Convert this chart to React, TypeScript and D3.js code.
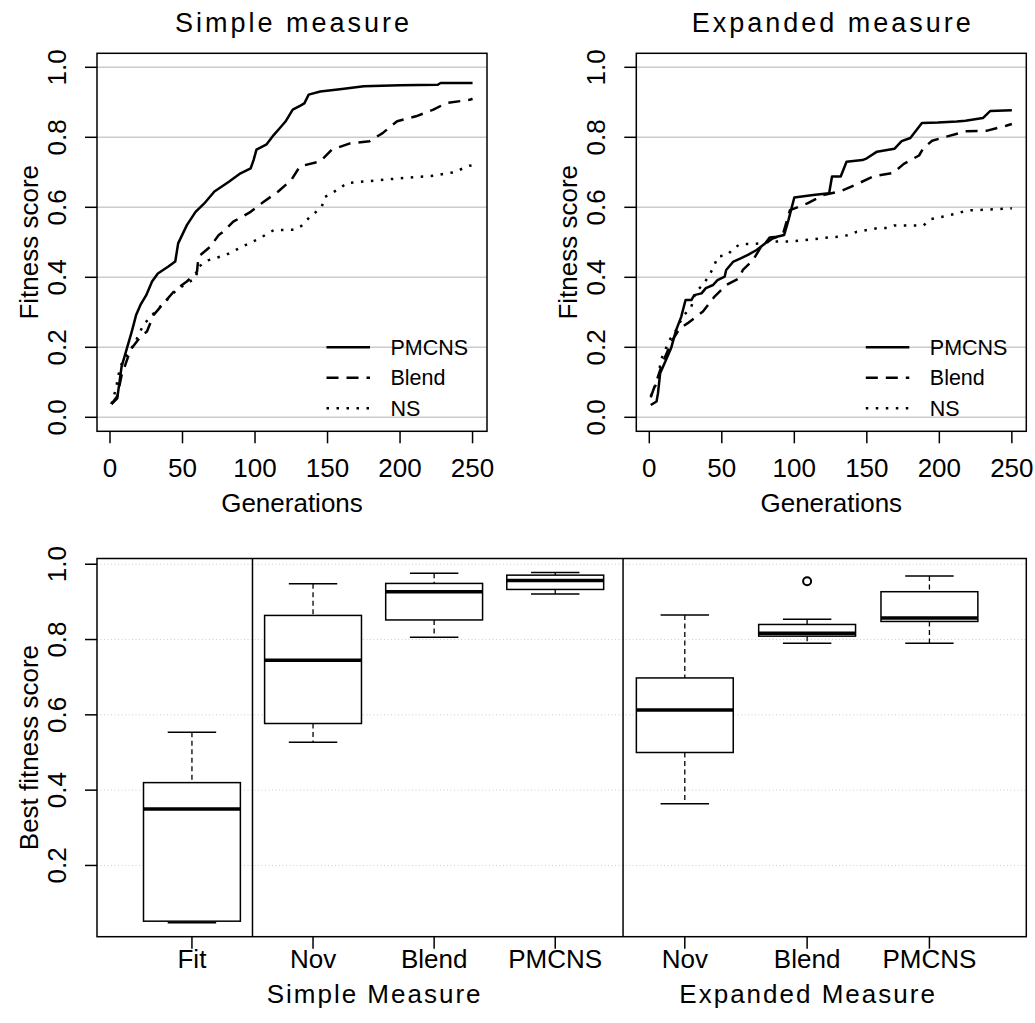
import * as d3 from "d3";

const FONT = "'Liberation Sans', Arial, Helvetica, sans-serif";

// shared axis ticks
const generationTicks = [0, 50, 100, 150, 200, 250];
const fitnessTicks = [0, 0.2, 0.4, 0.6, 0.8, 1.0];
const bestTicks = [0.2, 0.4, 0.6, 0.8, 1.0];
const seriesNames = ["PMCNS", "Blend", "NS"];

// Simple measure: best fitness per generation
const simplePmcnsGen = [1, 5, 8, 13, 15, 18, 21, 25, 29, 33, 40, 45, 47, 53, 59, 65, 72, 82, 90, 97, 99, 101, 108, 113, 117, 121, 126, 131, 134, 137, 145, 160, 175, 200, 226, 228, 250];
const simplePmcnsVal = [0.038, 0.054, 0.145, 0.216, 0.245, 0.292, 0.321, 0.349, 0.388, 0.411, 0.43, 0.445, 0.497, 0.549, 0.587, 0.611, 0.645, 0.673, 0.697, 0.711, 0.735, 0.765, 0.78, 0.807, 0.826, 0.845, 0.879, 0.89, 0.897, 0.922, 0.931, 0.938, 0.946, 0.949, 0.95, 0.955, 0.955];
const simpleBlendGen = [1, 5, 8, 10.5, 14, 21, 25.5, 30, 37, 45, 53, 60, 61, 69, 75, 78, 85, 97, 106, 116, 125, 131, 145, 153, 165, 179, 188, 198, 211, 223, 232, 248, 250];
const simpleBlendVal = [0.038, 0.06, 0.12, 0.149, 0.192, 0.23, 0.245, 0.292, 0.326, 0.364, 0.388, 0.416, 0.459, 0.487, 0.521, 0.53, 0.559, 0.587, 0.616, 0.645, 0.678, 0.717, 0.731, 0.765, 0.782, 0.789, 0.812, 0.846, 0.86, 0.879, 0.898, 0.907, 0.91];
const simpleNsGen = [1, 4, 7, 13, 17, 23, 29, 37, 46, 53, 59, 61, 68, 80, 91, 103, 113, 127, 132, 137, 146, 148, 159, 163, 184, 203, 223, 231, 237, 248, 250];
const simpleNsVal = [0.038, 0.08, 0.145, 0.187, 0.211, 0.264, 0.292, 0.326, 0.364, 0.383, 0.397, 0.43, 0.449, 0.464, 0.487, 0.511, 0.535, 0.536, 0.547, 0.569, 0.601, 0.629, 0.655, 0.669, 0.677, 0.684, 0.69, 0.696, 0.7, 0.719, 0.72];

// Expanded measure
const expPmcnsGen = [1, 5, 6, 7.5, 11.5, 15, 18.5, 22, 25, 29, 31, 36, 39, 44, 47, 52, 53, 58, 63, 68, 74, 80, 83, 88, 93, 96, 100, 113, 124, 126, 132, 136, 147, 150, 157, 169, 174, 180, 188, 199, 212, 218, 230, 235, 250];
const expPmcnsVal = [0.035, 0.045, 0.069, 0.126, 0.164, 0.197, 0.249, 0.287, 0.335, 0.335, 0.349, 0.354, 0.369, 0.378, 0.392, 0.402, 0.421, 0.445, 0.454, 0.464, 0.478, 0.497, 0.514, 0.516, 0.521, 0.564, 0.628, 0.635, 0.64, 0.688, 0.688, 0.73, 0.735, 0.74, 0.759, 0.767, 0.789, 0.798, 0.841, 0.842, 0.845, 0.847, 0.855, 0.875, 0.877];
const expBlendGen = [1, 6, 9, 16, 21, 26.5, 37, 45, 53, 62, 64.5, 71.5, 77, 85, 92, 97, 109, 120, 132, 143, 155, 168, 175.5, 186, 189, 195, 205, 218, 233, 246, 250];
const expBlendVal = [0.057, 0.116, 0.154, 0.221, 0.254, 0.269, 0.302, 0.345, 0.378, 0.397, 0.421, 0.449, 0.487, 0.511, 0.521, 0.592, 0.611, 0.635, 0.646, 0.666, 0.689, 0.698, 0.724, 0.748, 0.769, 0.79, 0.802, 0.817, 0.819, 0.833, 0.838];
const expNsGen = [1, 6, 8, 14, 18.5, 23, 29, 32, 37, 41.5, 45, 47, 54, 58, 63, 70, 77, 83, 97, 111, 124, 131, 139, 143, 157, 164, 169, 189, 194, 212, 219, 226, 246, 250];
const expNsVal = [0.06, 0.107, 0.164, 0.221, 0.249, 0.287, 0.316, 0.359, 0.378, 0.407, 0.435, 0.459, 0.464, 0.483, 0.495, 0.495, 0.497, 0.502, 0.502, 0.508, 0.514, 0.516, 0.522, 0.53, 0.54, 0.541, 0.548, 0.548, 0.566, 0.582, 0.591, 0.592, 0.596, 0.597];

// boxplot of best fitness scores
const boxLabels = ["Fit", "Nov", "Blend", "PMCNS", "Nov", "Blend", "PMCNS"];
const boxPositions = [1, 2, 3, 4, 5.07, 6.08, 7.09];
const boxLower = [0.048, 0.527, 0.806, 0.921, 0.364, 0.79, 0.79];
const boxQ1 = [0.052, 0.577, 0.852, 0.933, 0.5, 0.809, 0.848];
const boxMedian = [0.35, 0.745, 0.927, 0.957, 0.613, 0.817, 0.857];
const boxQ3 = [0.42, 0.864, 0.949, 0.971, 0.698, 0.84, 0.927];
const boxUpper = [0.554, 0.948, 0.976, 0.978, 0.865, 0.854, 0.969];
const outlierIndex = [5];
const outlierValue = [0.955];
const groupLabels = ["Simple Measure", "Expanded Measure"];
const groupCenters = [2.5, 6.08];
const groupDividers = [1.5, 4.56];

const dashes: Record<string, string | undefined> = { PMCNS: undefined, Blend: "12,8", NS: "2.5,7.5" };

type Series = { name: string; gen: number[]; val: number[] };

const LinePanel = ({ left, title, series }: { left: number; title: string; series: Series[] }) => {
  const width = 390;
  const x = d3.scaleLinear().domain([-8.96, 259.96]).range([left, left + width]);
  const y = d3.scaleLinear().domain([-0.04, 1.04]).range([431.3, 53.3]);
  const line = d3
    .line<[number, number]>()
    .x((d) => x(d[0]))
    .y((d) => y(d[1]));

  return (
    <g>
      {fitnessTicks.map((t) => (
        <line key={"g" + t} x1={left} x2={left + width} y1={y(t)} y2={y(t)} stroke="#cccccc" strokeWidth={1.5} />
      ))}
      {series.map((s) => (
        <path
          key={s.name}
          d={line(s.gen.map((g, i) => [g, s.val[i]] as [number, number])) || ""}
          fill="none"
          stroke="#000"
          strokeWidth={2.5}
          strokeDasharray={dashes[s.name]}
          strokeLinejoin="round"
        />
      ))}
      <rect x={left} y={53.3} width={width} height={378} fill="none" stroke="#000" strokeWidth={1.5} />
      {fitnessTicks.map((t) => (
        <g key={"y" + t}>
          <line x1={left - 12} x2={left} y1={y(t)} y2={y(t)} stroke="#000" strokeWidth={1.5} />
          <text transform={`translate(${left - 31},${y(t)}) rotate(-90)`} textAnchor="middle" fontSize={26}>
            {t.toFixed(1)}
          </text>
        </g>
      ))}
      {generationTicks.map((t) => (
        <g key={"x" + t}>
          <line x1={x(t)} x2={x(t)} y1={431.3} y2={443.3} stroke="#000" strokeWidth={1.5} />
          <text x={x(t)} y={476.5} textAnchor="middle" fontSize={26}>
            {t}
          </text>
        </g>
      ))}
      <text x={left + width / 2 + 1.5} y={32} textAnchor="middle" fontSize={27} letterSpacing={3}>
        {title}
      </text>
      <text x={left + width / 2} y={511.7} textAnchor="middle" fontSize={26}>
        Generations
      </text>
      <text transform={`translate(${left - 59},${y(0.5)}) rotate(-90)`} textAnchor="middle" fontSize={26}>
        Fitness score
      </text>
      {seriesNames.map((n, i) => (
        <g key={"l" + n}>
          <line
            x1={left + 229.5}
            x2={left + 273}
            y1={347.3 + i * 30.5}
            y2={347.3 + i * 30.5}
            stroke="#000"
            strokeWidth={2.5}
            strokeDasharray={dashes[n]}
          />
          <text x={left + 293.5} y={347.3 + i * 30.5 + 7.5} fontSize={21.5}>
            {n}
          </text>
        </g>
      ))}
    </g>
  );
};

const BoxPanel = () => {
  const x = d3.scaleLinear().domain([0.216, 7.89]).range([97, 1026.3]);
  const y = d3.scaleLinear().domain([0.0108, 1.0152]).range([936.7, 558.5]);
  const unit = x(1) - x(0);
  const top = y(1.0152);
  const bottom = y(0.0108);

  return (
    <g>
      {bestTicks.map((t) => (
        <line key={"g" + t} x1={97} x2={1026.3} y1={y(t)} y2={y(t)} stroke="#cfcfcf" strokeWidth={1} strokeDasharray="1,2.5" />
      ))}
      {groupDividers.map((d) => (
        <line key={"d" + d} x1={x(d)} x2={x(d)} y1={top} y2={bottom} stroke="#000" strokeWidth={1.5} />
      ))}
      {boxPositions.map((p, i) => {
        const cx = x(p);
        return (
          <g key={"b" + i}>
            <line x1={cx} x2={cx} y1={y(boxUpper[i])} y2={y(boxQ3[i])} stroke="#000" strokeWidth={1.3} strokeDasharray="5,3.5" />
            <line x1={cx} x2={cx} y1={y(boxQ1[i])} y2={y(boxLower[i])} stroke="#000" strokeWidth={1.3} strokeDasharray="5,3.5" />
            <line x1={cx - unit * 0.2} x2={cx + unit * 0.2} y1={y(boxUpper[i])} y2={y(boxUpper[i])} stroke="#000" strokeWidth={1.5} />
            <line x1={cx - unit * 0.2} x2={cx + unit * 0.2} y1={y(boxLower[i])} y2={y(boxLower[i])} stroke="#000" strokeWidth={1.5} />
            <rect
              x={cx - unit * 0.4}
              y={y(boxQ3[i])}
              width={unit * 0.8}
              height={y(boxQ1[i]) - y(boxQ3[i])}
              fill="#fff"
              stroke="#000"
              strokeWidth={1.5}
            />
            <line x1={cx - unit * 0.4} x2={cx + unit * 0.4} y1={y(boxMedian[i])} y2={y(boxMedian[i])} stroke="#000" strokeWidth={3.5} />
          </g>
        );
      })}
      {outlierIndex.map((idx, k) => (
        <circle key={"o" + k} cx={x(boxPositions[idx])} cy={y(outlierValue[k])} r={4} fill="none" stroke="#000" strokeWidth={2} />
      ))}
      <rect x={97} y={top} width={1026.3 - 97} height={bottom - top} fill="none" stroke="#000" strokeWidth={1.5} />
      {bestTicks.map((t) => (
        <g key={"y" + t}>
          <line x1={85} x2={97} y1={y(t)} y2={y(t)} stroke="#000" strokeWidth={1.5} />
          <text transform={`translate(66,${y(t)}) rotate(-90)`} textAnchor="middle" fontSize={26}>
            {t.toFixed(1)}
          </text>
        </g>
      ))}
      {boxPositions.map((p, i) => (
        <g key={"x" + i}>
          <line x1={x(p)} x2={x(p)} y1={bottom} y2={bottom + 12} stroke="#000" strokeWidth={1.5} />
          <text x={x(p)} y={968} textAnchor="middle" fontSize={26}>
            {boxLabels[i]}
          </text>
        </g>
      ))}
      {groupLabels.map((g, i) => (
        <text key={g} x={x(groupCenters[i]) + 1} y={1003} textAnchor="middle" fontSize={26} letterSpacing={2}>
          {g}
        </text>
      ))}
      <text transform={`translate(38,${(top + bottom) / 2}) rotate(-90)`} textAnchor="middle" fontSize={26}>
        Best fitness score
      </text>
    </g>
  );
};

export default function App() {
  const simpleSeries: Series[] = [
    { name: "PMCNS", gen: simplePmcnsGen, val: simplePmcnsVal },
    { name: "Blend", gen: simpleBlendGen, val: simpleBlendVal },
    { name: "NS", gen: simpleNsGen, val: simpleNsVal },
  ];
  const expandedSeries: Series[] = [
    { name: "PMCNS", gen: expPmcnsGen, val: expPmcnsVal },
    { name: "Blend", gen: expBlendGen, val: expBlendVal },
    { name: "NS", gen: expNsGen, val: expNsVal },
  ];

  return (
    <div style={{ position: "absolute", left: 0, top: 0 }}>
      <svg width={1035} height={1023} style={{ display: "block", background: "#fff" }} fontFamily={FONT}>
        <LinePanel left={97} title="Simple measure" series={simpleSeries} />
        <LinePanel left={636.3} title="Expanded measure" series={expandedSeries} />
        <BoxPanel />
      </svg>
    </div>
  );
}
